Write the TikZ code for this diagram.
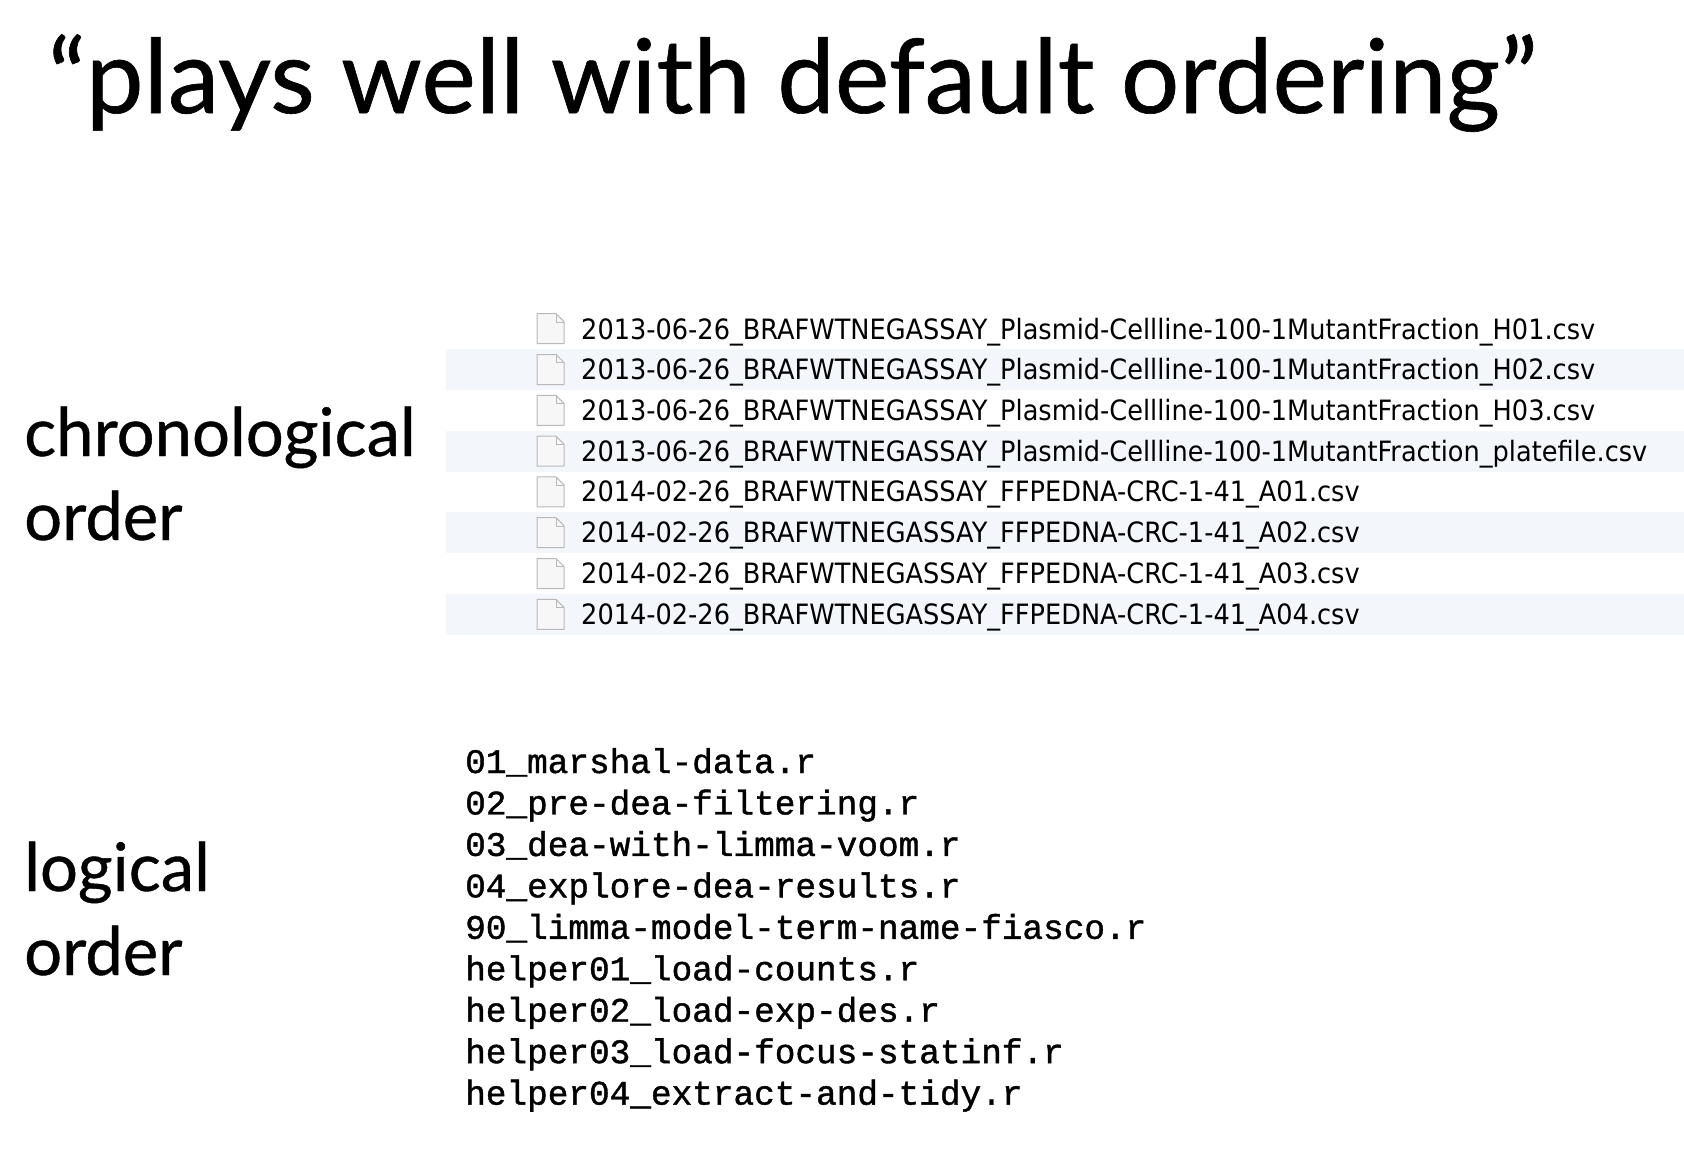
\documentclass[tikz,border=0pt]{standalone}
\usepackage{fontspec}
\setmainfont[FakeBold=0.6]{Lato}
\setmonofont[FakeBold=1.2]{Liberation Mono}
\newfontfamily\finderfont[FakeStretch=0.915]{DejaVu Sans}
\usetikzlibrary{positioning}
\definecolor{rowstripe}{RGB}{243,246,250}
\definecolor{iconline}{RGB}{185,185,185}
\definecolor{iconfill}{RGB}{247,247,247}
\tikzset{x=1pt,y=-1pt}
\tikzstyle{heading}=[anchor=base west,inner sep=0pt,font=\fontsize{103}{103}\selectfont]
\tikzstyle{side label}=[anchor=base west,inner sep=0pt,font=\fontsize{67}{67}\selectfont]
\tikzstyle{file name}=[anchor=west,inner sep=0pt,font=\finderfont\fontsize{28}{28}\selectfont]
\tikzstyle{file icon}=[draw=iconline,fill=iconfill,line width=1pt,line join=round]
\tikzstyle{script name}=[anchor=base west,inner sep=0pt,font=\ttfamily\fontsize{34.4}{34.4}\selectfont]

\begin{document}
\begin{tikzpicture}
  \useasboundingbox (0,0) rectangle (1684,1160);
  \node[heading] (title) at (48,113) {“plays well with default ordering”};
  \node[side label] (chrono) at (24,456) {chronological};
  \node[side label] (chronoorder) at (24,540) {order};
  \node[side label] (logic) at (24,891) {logical};
  \node[side label] (logicorder) at (24,975) {order};
  % finder listing, every second row striped
  \foreach \name [count=\i, evaluate=\i as \rowy using 328.7+40.8*(\i-1)] in {
      2013-06-26\_BRAFWTNEGASSAY\_Plasmid-Cellline-100-1MutantFraction\_H01.csv,
      2013-06-26\_BRAFWTNEGASSAY\_Plasmid-Cellline-100-1MutantFraction\_H02.csv,
      2013-06-26\_BRAFWTNEGASSAY\_Plasmid-Cellline-100-1MutantFraction\_H03.csv,
      2013-06-26\_BRAFWTNEGASSAY\_Plasmid-Cellline-100-1MutantFraction\_platefile.csv,
      2014-02-26\_BRAFWTNEGASSAY\_FFPEDNA-CRC-1-41\_A01.csv,
      2014-02-26\_BRAFWTNEGASSAY\_FFPEDNA-CRC-1-41\_A02.csv,
      2014-02-26\_BRAFWTNEGASSAY\_FFPEDNA-CRC-1-41\_A03.csv,
      2014-02-26\_BRAFWTNEGASSAY\_FFPEDNA-CRC-1-41\_A04.csv} {
    \ifodd\i\else
      \fill[rowstripe] (446,\rowy-20.4) rectangle (1684,\rowy+20.4);
    \fi
    \draw[file icon] (537,\rowy-15) -- ++(19,0) -- ++(8,8) -- ++(0,22) -- ++(-27,0) -- cycle;
    \draw[iconline] (556,\rowy-15) -- ++(0,8) -- ++(8,0);
    \node[file name] (file\i) at (581,\rowy+3) {\name};
  }
  % scripts, named so they sort in order
  \foreach \script [count=\j, evaluate=\j as \liney using 773+41.45*(\j-1)] in {
      01\_marshal-data.r,
      02\_pre-dea-filtering.r,
      03\_dea-with-limma-voom.r,
      04\_explore-dea-results.r,
      90\_limma-model-term-name-fiasco.r,
      helper01\_load-counts.r,
      helper02\_load-exp-des.r,
      helper03\_load-focus-statinf.r,
      helper04\_extract-and-tidy.r} {
    \node[script name] (script\j) at (465,\liney) {\script};
  }
\end{tikzpicture}
\end{document}
